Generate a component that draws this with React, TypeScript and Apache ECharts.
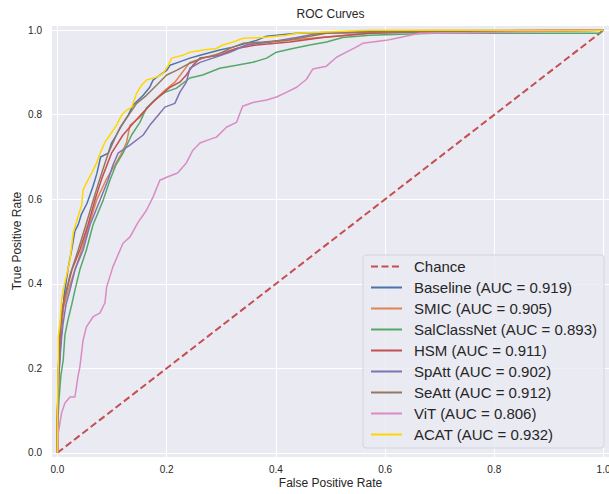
import React, { useEffect, useRef } from "react";
import * as echarts from "echarts";

type Pt = [number, number];

const tickValues = [0, 0.2, 0.4, 0.6, 0.8, 1.0];

const chance: Pt[] = [[0, 0], [1, 1]];

const baseline: Pt[] = [
  [0, 0], [0, 0.1], [0.003, 0.2], [0.008, 0.3], [0.012, 0.37], [0.02, 0.44], [0.026, 0.48],
  [0.032, 0.525], [0.038, 0.54], [0.044, 0.565], [0.054, 0.59], [0.065, 0.63], [0.072, 0.66],
  [0.079, 0.7], [0.093, 0.709], [0.099, 0.733], [0.108, 0.752], [0.1175, 0.775], [0.1295, 0.799],
  [0.1387, 0.823], [0.148, 0.835], [0.157, 0.846], [0.169, 0.865], [0.175, 0.882], [0.1875, 0.894],
  [0.2, 0.905], [0.206, 0.917], [0.221, 0.924], [0.2425, 0.934], [0.261, 0.941], [0.297, 0.953],
  [0.321, 0.96], [0.3645, 0.976], [0.383, 0.986], [0.438, 0.993], [0.522, 0.995], [0.627, 0.999], [1, 1],
];

const smic: Pt[] = [
  [0, 0], [0, 0.078], [0.0018, 0.196], [0.0055, 0.279], [0.01, 0.338], [0.0198, 0.385], [0.032, 0.433],
  [0.0443, 0.48], [0.0576, 0.539], [0.0717, 0.598], [0.0887, 0.645], [0.105, 0.681], [0.1175, 0.709],
  [0.1266, 0.735], [0.1327, 0.775], [0.151, 0.794], [0.169, 0.823], [0.1815, 0.839], [0.1967, 0.858],
  [0.215, 0.877], [0.2425, 0.924], [0.266, 0.934], [0.328, 0.957], [0.3577, 0.969], [0.389, 0.972],
  [0.48, 0.983], [0.572, 0.993], [0.736, 0.998], [1, 1],
];

const salClassNet: Pt[] = [
  [0, 0], [0, 0.054], [0.0027, 0.125], [0.0064, 0.184], [0.0106, 0.22], [0.0137, 0.279], [0.0192, 0.314],
  [0.026, 0.35], [0.032, 0.385], [0.041, 0.433], [0.053, 0.48], [0.065, 0.539], [0.0838, 0.598],
  [0.096, 0.645], [0.107, 0.681], [0.12, 0.709], [0.1358, 0.752], [0.151, 0.782], [0.163, 0.816],
  [0.1815, 0.839], [0.1967, 0.853], [0.218, 0.863], [0.2425, 0.887], [0.266, 0.894], [0.297, 0.91],
  [0.328, 0.917], [0.3577, 0.924], [0.383, 0.934], [0.401, 0.948], [0.431, 0.957], [0.462, 0.965],
  [0.4926, 0.972], [0.5224, 0.983], [0.572, 0.988], [0.687, 0.993], [0.993, 0.993], [1, 1],
];

const hsm: Pt[] = [
  [0, 0], [0, 0.09], [0.0018, 0.208], [0.0055, 0.303], [0.012, 0.362], [0.0168, 0.385], [0.0265, 0.433],
  [0.041, 0.48], [0.0558, 0.539], [0.0686, 0.598], [0.0814, 0.65], [0.099, 0.709], [0.12, 0.752],
  [0.1387, 0.78], [0.157, 0.806], [0.175, 0.83], [0.1936, 0.851], [0.206, 0.865], [0.224, 0.877],
  [0.236, 0.894], [0.248, 0.917], [0.261, 0.934], [0.297, 0.941], [0.328, 0.957], [0.3645, 0.965],
  [0.4254, 0.972], [0.4858, 0.983], [0.572, 0.993], [0.718, 0.998], [1, 1],
];

const spAtt: Pt[] = [
  [0, 0], [0, 0.078], [0.0027, 0.184], [0.0064, 0.255], [0.01, 0.303], [0.0155, 0.35], [0.0229, 0.385],
  [0.032, 0.433], [0.047, 0.48], [0.0595, 0.539], [0.078, 0.598], [0.0924, 0.645], [0.1016, 0.681],
  [0.111, 0.709], [0.1327, 0.728], [0.157, 0.752], [0.169, 0.775], [0.1844, 0.799], [0.1967, 0.818],
  [0.215, 0.827], [0.224, 0.853], [0.236, 0.877], [0.2425, 0.91], [0.261, 0.924], [0.2845, 0.934],
  [0.3157, 0.948], [0.346, 0.965], [0.389, 0.972], [0.4377, 0.983], [0.48, 0.993], [0.572, 0.995],
  [0.736, 0.998], [1, 1],
];

const seAtt: Pt[] = [
  [0, 0], [0, 0.078], [0.0018, 0.196], [0.0046, 0.291], [0.0082, 0.338], [0.0168, 0.385], [0.0229, 0.421],
  [0.038, 0.48], [0.052, 0.539], [0.0655, 0.598], [0.078, 0.65], [0.093, 0.709], [0.108, 0.752],
  [0.114, 0.768], [0.1266, 0.792], [0.145, 0.827], [0.163, 0.846], [0.1815, 0.87], [0.2, 0.894],
  [0.218, 0.905], [0.2425, 0.922], [0.266, 0.934], [0.291, 0.941], [0.3157, 0.957], [0.3394, 0.969],
  [0.376, 0.972], [0.419, 0.976], [0.449, 0.983], [0.4926, 0.993], [0.572, 0.995], [0.718, 0.998], [1, 1],
];

const vit: Pt[] = [
  [0, 0], [0.0015, 0.047], [0.0077, 0.095], [0.0137, 0.118], [0.023, 0.132], [0.032, 0.132],
  [0.0375, 0.18], [0.041, 0.203], [0.047, 0.267], [0.053, 0.298], [0.0655, 0.322], [0.078, 0.331],
  [0.087, 0.355], [0.09, 0.392], [0.1015, 0.44], [0.12, 0.496], [0.133, 0.511], [0.147, 0.544],
  [0.163, 0.574], [0.175, 0.605], [0.1875, 0.645], [0.2, 0.652], [0.22, 0.662], [0.236, 0.686],
  [0.248, 0.716], [0.261, 0.733], [0.275, 0.74], [0.291, 0.747], [0.31, 0.771], [0.328, 0.782],
  [0.339, 0.82], [0.358, 0.829], [0.383, 0.835], [0.401, 0.842], [0.419, 0.853], [0.438, 0.865],
  [0.456, 0.884], [0.4675, 0.908], [0.4925, 0.915], [0.511, 0.936], [0.529, 0.948], [0.547, 0.96],
  [0.559, 0.969], [0.602, 0.976], [0.627, 0.983], [0.663, 0.993], [0.749, 0.994], [0.828, 0.996], [1, 1],
];

const acat: Pt[] = [
  [0, 0], [0, 0.038], [0, 0.102], [0.0015, 0.213], [0.0015, 0.274], [0.0046, 0.307], [0.0077, 0.362],
  [0.0106, 0.385], [0.0168, 0.421], [0.0229, 0.456], [0.0289, 0.52], [0.035, 0.548], [0.0443, 0.586],
  [0.047, 0.622], [0.053, 0.638], [0.0626, 0.662], [0.0717, 0.686], [0.078, 0.709], [0.087, 0.735],
  [0.096, 0.752], [0.108, 0.775], [0.1175, 0.799], [0.127, 0.811], [0.136, 0.818], [0.145, 0.851],
  [0.154, 0.87], [0.163, 0.882], [0.1815, 0.889], [0.1935, 0.898], [0.203, 0.917], [0.209, 0.934],
  [0.23, 0.941], [0.2425, 0.948], [0.267, 0.953], [0.291, 0.957], [0.303, 0.965], [0.3217, 0.972],
  [0.34, 0.981], [0.3766, 0.983], [0.419, 0.988], [0.438, 0.993], [0.48, 0.995], [0.572, 1.0], [1, 1],
];

const seriesNames = [
  "Chance",
  "Baseline (AUC = 0.919)",
  "SMIC (AUC = 0.905)",
  "SalClassNet (AUC = 0.893)",
  "HSM (AUC = 0.911)",
  "SpAtt (AUC = 0.902)",
  "SeAtt (AUC = 0.912)",
  "ViT (AUC = 0.806)",
  "ACAT (AUC = 0.932)",
];
const seriesData = [chance, baseline, smic, salClassNet, hsm, spAtt, seAtt, vit, acat];
const seriesColors = [
  "#C44E52", "#4C72B0", "#DD8452", "#55A868", "#C44E52", "#8172B3", "#937860", "#DA8BC3", "#FFD700",
];

const FONT = "'Liberation Sans', Arial, sans-serif";
const TEXT = "#262626";

export default function App() {
  const ref = useRef<HTMLDivElement>(null);
  useEffect(() => {
    if (!ref.current) return;
    const chart = echarts.init(ref.current, null, { renderer: "svg" });
    const series = seriesNames.map((name, i) => ({
      name,
      type: "line",
      data: seriesData[i],
      symbol: "none",
      showSymbol: false,
      clip: false,
      silent: true,
      lineStyle: i === 0
        ? { color: seriesColors[i], width: 2, type: [7, 3.5] }
        : { color: seriesColors[i], width: 1.5 },
      itemStyle: { color: seriesColors[i] },
      z: 2 + i,
    }));
    chart.setOption({
      animation: false,
      backgroundColor: "#ffffff",
      textStyle: { fontFamily: FONT },
      grid: {
        left: 52, top: 26, width: 557, height: 431,
        containLabel: false, outerBoundsMode: "none",
        show: true, backgroundColor: "#EAEAF2", borderWidth: 0,
      },
      xAxis: {
        type: "value", min: -0.01, max: 1.01,
        axisLine: { show: false },
        axisTick: { show: false, customValues: tickValues },
        axisLabel: {
          customValues: tickValues, color: TEXT, fontSize: 10, margin: 7,
          fontFamily: FONT, formatter: (v: number) => v.toFixed(1),
        },
        splitLine: { show: true, lineStyle: { color: "#ffffff", width: 1 } },
      },
      yAxis: {
        type: "value", min: -0.01, max: 1.01,
        axisLine: { show: false },
        axisTick: { show: false, customValues: tickValues },
        axisLabel: {
          customValues: tickValues, color: TEXT, fontSize: 10, margin: 10,
          fontFamily: FONT, formatter: (v: number) => v.toFixed(1),
        },
        splitLine: { show: true, lineStyle: { color: "#ffffff", width: 1 } },
      },
      legend: {
        orient: "vertical",
        left: 363, top: 255,
        padding: [4, 7, 6, 7],
        itemWidth: 31, itemHeight: 14, itemGap: 6,
        itemStyle: { opacity: 0 },
        backgroundColor: "rgba(234,234,242,0.8)",
        borderColor: "#d4d4dc", borderWidth: 1, borderRadius: 3,
        textStyle: { color: TEXT, fontSize: 15, fontFamily: FONT, padding: [0, 0, 0, 7] },
        data: seriesNames,
        selectedMode: false,
      },
      graphic: [
        {
          type: "text", x: 330.5, y: 14,
          style: { text: "ROC Curves", fill: TEXT, font: `12px ${FONT}`, textAlign: "center", textVerticalAlign: "middle" },
        },
        {
          type: "text", x: 330.5, y: 483,
          style: { text: "False Positive Rate", fill: TEXT, font: `12px ${FONT}`, textAlign: "center", textVerticalAlign: "middle" },
        },
        {
          type: "text", x: 17, y: 241, rotation: Math.PI / 2,
          style: { text: "True Positive Rate", fill: TEXT, font: `12px ${FONT}`, textAlign: "center", textVerticalAlign: "middle" },
        },
      ],
      series,
    });
    return () => chart.dispose();
  }, []);
  return (
    <div
      ref={ref}
      style={{ position: "fixed", left: 0, top: 0, width: 609, height: 494 }}
    />
  );
}
